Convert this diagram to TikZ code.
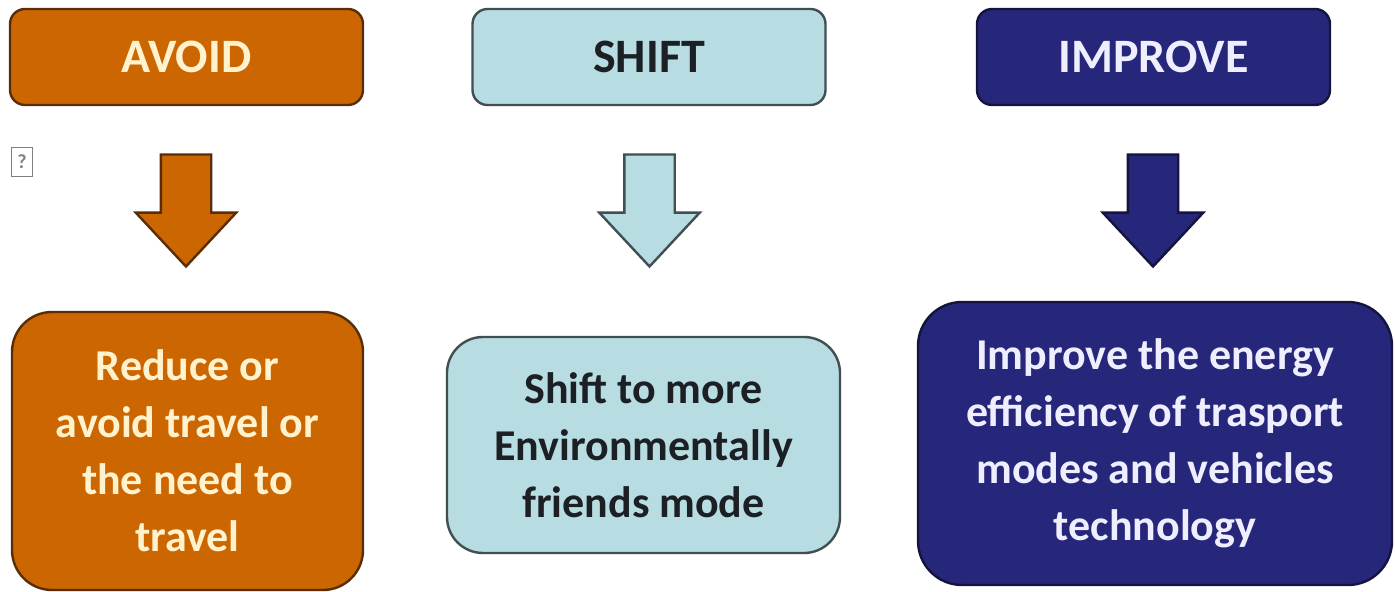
\documentclass[tikz,border=0pt]{standalone}
\usepackage{fontspec}
\setmainfont{Carlito}
\usetikzlibrary{shapes.arrows}

\definecolor{avoidorange}{RGB}{204,102,0}
\definecolor{avoidline}{RGB}{90,45,10}
\definecolor{avoidtextc}{RGB}{255,242,205}
\definecolor{shiftcyan}{RGB}{183,221,226}
\definecolor{shiftline}{RGB}{65,78,82}
\definecolor{shifttextc}{RGB}{28,32,36}
\definecolor{improvenavy}{RGB}{38,38,122}
\definecolor{improveline}{RGB}{20,20,60}
\definecolor{improvetextc}{RGB}{238,238,255}

\begin{document}
\begin{tikzpicture}[x=0.5pt, y=-0.5pt, line width=1.2pt,
  avoidbox/.style={draw=avoidline, fill=avoidorange, text=avoidtextc},
  shiftbox/.style={draw=shiftline, fill=shiftcyan, text=shifttextc},
  improvebox/.style={draw=improveline, fill=improvenavy, text=improvetextc},
  headbox/.style={minimum width=176.5pt, minimum height=48pt, rounded corners=7.5pt, font=\fontsize{24}{28}\selectfont\bfseries},
  textbox/.style={align=center, inner sep=0pt, font=\fontsize{22}{28.5}\selectfont\bfseries},
  downarrow/.style={single arrow, rotate=-90, inner xsep=0pt, inner ysep=12pt, single arrow head extend=12.5pt, single arrow tip angle=86, minimum height=56pt}]
\useasboundingbox (0,0) rectangle (1395,592);

% top row
\node[avoidbox, headbox] (avoid) at (186.5,57) {AVOID};
\node[shiftbox, headbox] (shift) at (649,57) {SHIFT};
\node[improvebox, headbox] (improve) at (1153.5,57) {IMPROVE};

% missing picture mark
\node[draw=gray, line width=0.7pt, inner sep=0pt, minimum width=10.5pt, minimum height=14.5pt, text=gray, font=\fontsize{10}{10}\selectfont\bfseries] (missing) at (22,162) {?};

% arrows
\node[avoidbox, downarrow] (avoidarrow) at (186,197) {};
\node[shiftbox, downarrow] (shiftarrow) at (649.5,197) {};
\node[improvebox, downarrow] (improvearrow) at (1153,197) {};

% bottom row
\node[avoidbox, minimum width=175.5pt, minimum height=139pt, rounded corners=20pt] (avoiddo) at (187.5,451) {};
\node[textbox, text=avoidtextc] (avoidtext) at (avoiddo.center) {Reduce or\\avoid travel or\\the need to\\travel};
\node[shiftbox, minimum width=196.5pt, minimum height=108pt, rounded corners=18pt] (shiftdo) at (643.5,445) {};
\node[textbox, text=shifttextc] (shifttext) at (shiftdo.center) {Shift to more\\Environmentally\\friends mode};
\node[improvebox, minimum width=237pt, minimum height=141.5pt, rounded corners=22pt] (improvedo) at (1155,443.5) {};
\node[textbox, text=improvetextc] (improvetext) at (improvedo.center) {Improve the energy\\efficiency of trasport\\modes and vehicles\\technology};

\end{tikzpicture}
\end{document}
